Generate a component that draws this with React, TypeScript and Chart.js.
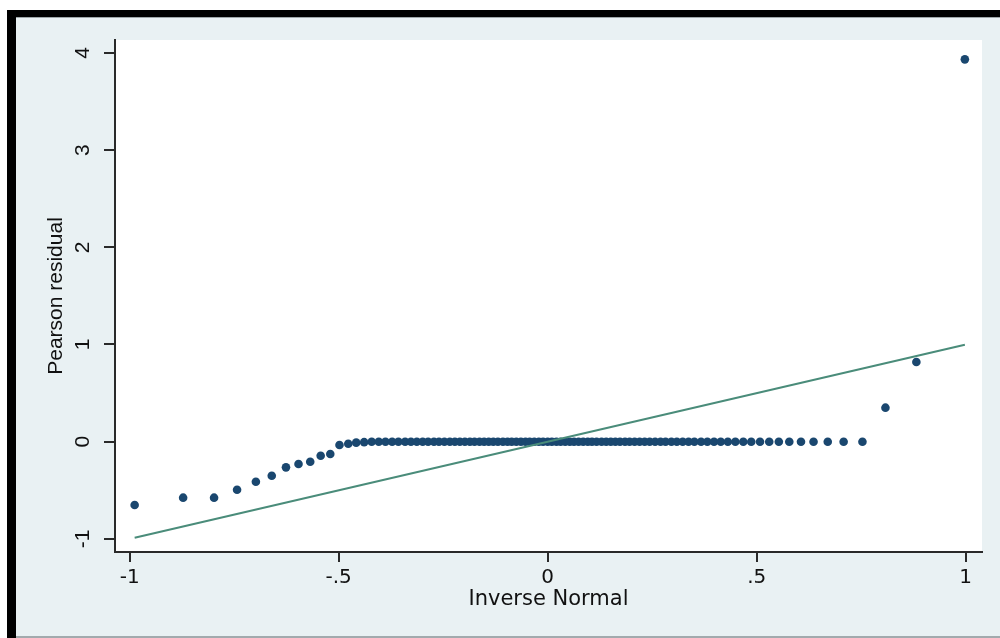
import React, { useEffect, useRef } from "react";
import { Chart, registerables } from "chart.js";

Chart.register(...registerables);

// Inverse-normal quantile positions (x) of the sorted Pearson residuals (y)
const QX: number[] = [
  -0.988, -0.872, -0.798, -0.743, -0.698, -0.66, -0.626, -0.596, -0.568, -0.543,
  -0.52, -0.498, -0.477, -0.458, -0.439, -0.421, -0.404, -0.388, -0.372, -0.357,
  -0.341, -0.327, -0.313, -0.299, -0.286, -0.272, -0.26, -0.247, -0.234, -0.222,
  -0.21, -0.198, -0.186, -0.175, -0.163, -0.152, -0.141, -0.13, -0.119, -0.107,
  -0.096, -0.086, -0.075, -0.064, -0.053, -0.043, -0.032, -0.021, -0.011, 0.0,
  0.01, 0.021, 0.031, 0.042, 0.053, 0.063, 0.074, 0.085, 0.096, 0.106,
  0.117, 0.129, 0.14, 0.151, 0.162, 0.173, 0.185, 0.196, 0.208, 0.22,
  0.232, 0.244, 0.257, 0.27, 0.282, 0.296, 0.309, 0.323, 0.337, 0.351,
  0.367, 0.382, 0.398, 0.414, 0.431, 0.449, 0.468, 0.487, 0.508, 0.53,
  0.553, 0.578, 0.606, 0.636, 0.67, 0.708, 0.753, 0.808, 0.882, 0.998,
];

const QY: number[] = [
  -0.651, -0.576, -0.576, -0.494, -0.412, -0.35, -0.264, -0.23, -0.206, -0.144,
  -0.127, -0.034, -0.021, -0.01, -0.005, 0, 0, 0, 0, 0,
  0, 0, 0, 0, 0, 0, 0, 0, 0, 0,
  0, 0, 0, 0, 0, 0, 0, 0, 0, 0,
  0, 0, 0, 0, 0, 0, 0, 0, 0, 0,
  0, 0, 0, 0, 0, 0, 0, 0, 0, 0,
  0, 0, 0, 0, 0, 0, 0, 0, 0, 0,
  0, 0, 0, 0, 0, 0, 0, 0, 0, 0,
  0, 0, 0, 0, 0, 0, 0, 0, 0, 0,
  0, 0, 0, 0, 0, 0, 0, 0.35, 0.82, 3.934,
];

// Reference line (y = x) endpoints
const REF_X: number[] = [-0.988, 0.998];
const REF_Y: number[] = [-0.988, 0.998];

const X_TICKS: number[] = [-1, -0.5, 0, 0.5, 1];
const X_TICK_LABELS: string[] = ["-1", "-.5", "0", ".5", "1"];
const Y_TICKS: number[] = [-1, 0, 1, 2, 3, 4];
const Y_TICK_LABELS: string[] = ["-1", "0", "1", "2", "3", "4"];

const X_TITLE = "Inverse Normal";
const Y_TITLE = "Pearson residual";

const X_MIN = -1.035;
const X_MAX = 1.039;
const Y_MIN = -1.135;
const Y_MAX = 4.133;

const NAVY = "#1A476F";
const TEAL = "#4A8C7A";
const BG = "#E9F1F3";
const AXIS = "#2A2A2A";
const TEXT = "#111111";

const framePlugin = {
  id: "stataFrame",
  beforeDraw(chart: any) {
    const { ctx, chartArea: a, width, height } = chart;
    ctx.save();
    ctx.fillStyle = "#ffffff";
    ctx.fillRect(0, 0, width, height);
    ctx.fillStyle = "#000000";
    ctx.fillRect(7, 10, width - 7, 7);
    ctx.fillRect(7, 10, 9, height - 10);
    ctx.fillStyle = "#9EA6A9";
    ctx.fillRect(16, 17, width - 16, 1);
    ctx.fillStyle = BG;
    ctx.fillRect(16, 18, width - 16, 618);
    ctx.fillStyle = "#A2AAAD";
    ctx.fillRect(16, 636, width - 16, 2);
    ctx.fillStyle = "#ffffff";
    ctx.fillRect(a.left, a.top, a.right - a.left, a.bottom - a.top);
    ctx.restore();
  },
};

export default function App() {
  const ref = useRef<HTMLCanvasElement | null>(null);

  useEffect(() => {
    if (!ref.current) return;
    const chart = new Chart(ref.current, {
      type: "scatter",
      data: {
        datasets: [
          {
            type: "line",
            label: "reference",
            data: REF_X.map((x, i) => ({ x, y: REF_Y[i] })),
            borderColor: TEAL,
            borderWidth: 2,
            pointRadius: 0,
            fill: false,
            order: 1,
          } as any,
          {
            type: "scatter",
            label: "residuals",
            data: QX.map((x, i) => ({ x, y: QY[i] })),
            backgroundColor: NAVY,
            borderColor: NAVY,
            borderWidth: 0,
            pointRadius: 4.3,
            order: 2,
          } as any,
        ],
      },
      options: {
        animation: false,
        responsive: false,
        events: [],
        layout: { padding: { left: 17, top: 40, right: 18, bottom: 0 } },
        plugins: { legend: { display: false }, tooltip: { enabled: false } },
        scales: {
          x: {
            type: "linear",
            position: "bottom",
            min: X_MIN,
            max: X_MAX,
            afterBuildTicks: (s: any) => {
              s.ticks = X_TICKS.map((v) => ({ value: v }));
            },
            afterFit: (s: any) => {
              s.height = 86;
            },
            ticks: {
              autoSkip: false,
              maxRotation: 0,
              minRotation: 0,
              padding: 4,
              color: TEXT,
              font: { family: "DejaVu Sans", size: 20 },
              callback: (v: any) => X_TICK_LABELS[X_TICKS.indexOf(Number(v))] ?? "",
            },
            grid: {
              drawOnChartArea: false,
              drawTicks: true,
              tickLength: 10,
              color: AXIS,
              lineWidth: 2,
            },
            border: { display: true, color: AXIS, width: 2 },
            title: {
              display: true,
              text: X_TITLE,
              color: TEXT,
              font: { family: "DejaVu Sans", size: 21 },
              padding: { top: 0, bottom: 26 },
            },
          },
          y: {
            type: "linear",
            position: "left",
            min: Y_MIN,
            max: Y_MAX,
            afterBuildTicks: (s: any) => {
              s.ticks = Y_TICKS.map((v) => ({ value: v }));
            },
            afterFit: (s: any) => {
              s.width = 98;
            },
            ticks: {
              autoSkip: false,
              minRotation: 90,
              maxRotation: 90,
              crossAlign: "center",
              padding: 11,
              color: TEXT,
              font: { family: "Liberation Sans", size: 21 },
              callback: (v: any) => Y_TICK_LABELS[Y_TICKS.indexOf(Number(v))] ?? "",
            },
            grid: {
              drawOnChartArea: false,
              drawTicks: true,
              tickLength: 11,
              color: AXIS,
              lineWidth: 2,
            },
            border: { display: true, color: AXIS, width: 2 },
            title: {
              display: true,
              text: Y_TITLE,
              color: TEXT,
              font: { family: "Liberation Sans", size: 21 },
              padding: { top: 27, bottom: 0 },
            },
          },
        },
      },
      plugins: [framePlugin],
    } as any);
    return () => chart.destroy();
  }, []);

  return (
    <div style={{ position: "fixed", left: 0, top: 0, width: 1000, height: 638 }}>
      <canvas ref={ref} width={1000} height={638} style={{ display: "block" }} />
    </div>
  );
}
